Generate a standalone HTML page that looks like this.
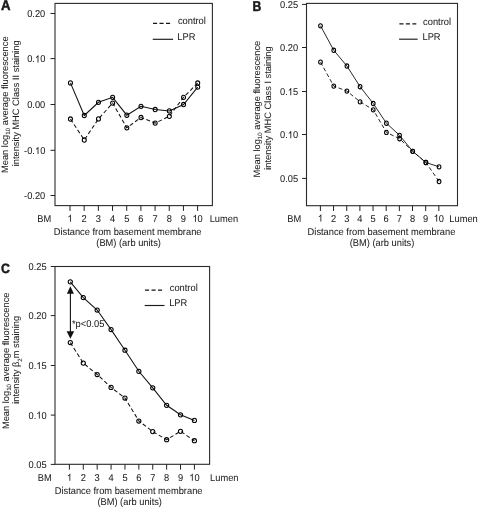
<!DOCTYPE html>
<html><head><meta charset="utf-8"><style>
html,body{margin:0;padding:0;background:#fff;}
body{width:478px;height:508px;overflow:hidden;}
svg{display:block;will-change:transform;font-family:"Liberation Sans",sans-serif;fill:#1a1a1a;text-rendering:geometricPrecision;}
text{stroke:#1a1a1a;stroke-width:0.04px;}
.h{fill-opacity:0;stroke-opacity:0;}
.g{fill:#1a1a1a;stroke:#1a1a1a;stroke-width:0.05px;vector-effect:non-scaling-stroke;}
</style></head><body>
<svg width="478" height="508" viewBox="0 0 478 508">
<rect x="55.00" y="3.40" width="157.40" height="202.20" fill="none" stroke="#2a2a2a" stroke-width="1.1"/>
<line x1="50.50" y1="13.50" x2="55.00" y2="13.50" stroke="#222" stroke-width="1.0"/>
<text transform="translate(45.30,17.30) scale(1,1.06)" font-size="9.3" text-anchor="end" font-weight="normal" >0.20</text>
<line x1="50.50" y1="195.50" x2="55.00" y2="195.50" stroke="#222" stroke-width="1.0"/>
<text transform="translate(45.30,199.30) scale(1,1.06)" font-size="9.3" text-anchor="end" font-weight="normal" >-0.20</text>
<line x1="50.50" y1="58.60" x2="55.00" y2="58.60" stroke="#222" stroke-width="1.0"/>
<text transform="translate(27.20,62.40) scale(1,1.06)" font-size="9.3" >0.<tspan class="h">1</tspan>0</text>
<path class="g" transform="translate(34.96,62.40) scale(0.004541,-0.004813)" d="M763 0L583 0L583 1147Q518 1085 412 1023Q306 961 222 930L222 1104Q373 1175 486 1276Q599 1377 646 1472L763 1472Z"/>
<line x1="50.50" y1="104.50" x2="55.00" y2="104.50" stroke="#222" stroke-width="1.0"/>
<text transform="translate(45.30,108.30) scale(1,1.06)" font-size="9.3" text-anchor="end" font-weight="normal" >0.00</text>
<line x1="50.50" y1="150.30" x2="55.00" y2="150.30" stroke="#222" stroke-width="1.0"/>
<text transform="translate(24.10,154.10) scale(1,1.06)" font-size="9.3" >-0.<tspan class="h">1</tspan>0</text>
<path class="g" transform="translate(34.96,154.10) scale(0.004541,-0.004813)" d="M763 0L583 0L583 1147Q518 1085 412 1023Q306 961 222 930L222 1104Q373 1175 486 1276Q599 1377 646 1472L763 1472Z"/>
<line x1="70.00" y1="205.60" x2="70.00" y2="210.90" stroke="#222" stroke-width="1.0"/>
<text transform="translate(67.41,221.80) scale(1,1.06)" font-size="9.3" ><tspan class="h">1</tspan></text>
<path class="g" transform="translate(67.41,221.80) scale(0.004541,-0.004813)" d="M763 0L583 0L583 1147Q518 1085 412 1023Q306 961 222 930L222 1104Q373 1175 486 1276Q599 1377 646 1472L763 1472Z"/>
<line x1="84.18" y1="205.60" x2="84.18" y2="210.90" stroke="#222" stroke-width="1.0"/>
<text transform="translate(84.18,221.80) scale(1,1.06)" font-size="9.3" text-anchor="middle" font-weight="normal" >2</text>
<line x1="98.36" y1="205.60" x2="98.36" y2="210.90" stroke="#222" stroke-width="1.0"/>
<text transform="translate(98.36,221.80) scale(1,1.06)" font-size="9.3" text-anchor="middle" font-weight="normal" >3</text>
<line x1="112.54" y1="205.60" x2="112.54" y2="210.90" stroke="#222" stroke-width="1.0"/>
<text transform="translate(112.54,221.80) scale(1,1.06)" font-size="9.3" text-anchor="middle" font-weight="normal" >4</text>
<line x1="126.72" y1="205.60" x2="126.72" y2="210.90" stroke="#222" stroke-width="1.0"/>
<text transform="translate(126.72,221.80) scale(1,1.06)" font-size="9.3" text-anchor="middle" font-weight="normal" >5</text>
<line x1="140.90" y1="205.60" x2="140.90" y2="210.90" stroke="#222" stroke-width="1.0"/>
<text transform="translate(140.90,221.80) scale(1,1.06)" font-size="9.3" text-anchor="middle" font-weight="normal" >6</text>
<line x1="155.08" y1="205.60" x2="155.08" y2="210.90" stroke="#222" stroke-width="1.0"/>
<text transform="translate(155.08,221.80) scale(1,1.06)" font-size="9.3" text-anchor="middle" font-weight="normal" >7</text>
<line x1="169.26" y1="205.60" x2="169.26" y2="210.90" stroke="#222" stroke-width="1.0"/>
<text transform="translate(169.26,221.80) scale(1,1.06)" font-size="9.3" text-anchor="middle" font-weight="normal" >8</text>
<line x1="183.44" y1="205.60" x2="183.44" y2="210.90" stroke="#222" stroke-width="1.0"/>
<text transform="translate(183.44,221.80) scale(1,1.06)" font-size="9.3" text-anchor="middle" font-weight="normal" >9</text>
<line x1="197.62" y1="205.60" x2="197.62" y2="210.90" stroke="#222" stroke-width="1.0"/>
<text transform="translate(192.45,221.80) scale(1,1.06)" font-size="9.3" ><tspan class="h">1</tspan>0</text>
<path class="g" transform="translate(192.45,221.80) scale(0.004541,-0.004813)" d="M763 0L583 0L583 1147Q518 1085 412 1023Q306 961 222 930L222 1104Q373 1175 486 1276Q599 1377 646 1472L763 1472Z"/>
<text transform="translate(37.20,221.80) scale(1,1.06)" font-size="9.3" text-anchor="start" font-weight="normal" >BM</text>
<text transform="translate(209.70,221.80) scale(1,1.06)" font-size="9.3" text-anchor="start" font-weight="normal" >Lumen</text>
<text transform="translate(53.70,234.50) scale(1,1.06)" font-size="9.3" text-anchor="start" font-weight="normal" >Distance from basement membrane</text>
<text transform="translate(96.30,245.50) scale(1,1.06)" font-size="9.3" text-anchor="start" font-weight="normal" >(BM) (arb units)</text>
<polyline points="70.45,119.00 84.28,140.00 98.46,118.90 112.64,103.10 126.82,127.80 141.00,117.50 155.18,123.10 169.36,116.30 183.54,97.30 197.72,83.00" fill="none" stroke="#111" stroke-width="1.05" stroke-dasharray="4 2.5"/>
<ellipse cx="70.45" cy="119.00" rx="2.0" ry="2.15" fill="none" stroke="#000" stroke-width="1.05"/>
<ellipse cx="84.28" cy="140.00" rx="2.0" ry="2.15" fill="none" stroke="#000" stroke-width="1.05"/>
<ellipse cx="98.46" cy="118.90" rx="2.0" ry="2.15" fill="none" stroke="#000" stroke-width="1.05"/>
<ellipse cx="112.64" cy="103.10" rx="2.0" ry="2.15" fill="none" stroke="#000" stroke-width="1.05"/>
<ellipse cx="126.82" cy="127.80" rx="2.0" ry="2.15" fill="none" stroke="#000" stroke-width="1.05"/>
<ellipse cx="141.00" cy="117.50" rx="2.0" ry="2.15" fill="none" stroke="#000" stroke-width="1.05"/>
<ellipse cx="155.18" cy="123.10" rx="2.0" ry="2.15" fill="none" stroke="#000" stroke-width="1.05"/>
<ellipse cx="169.36" cy="116.30" rx="2.0" ry="2.15" fill="none" stroke="#000" stroke-width="1.05"/>
<ellipse cx="183.54" cy="97.30" rx="2.0" ry="2.15" fill="none" stroke="#000" stroke-width="1.05"/>
<ellipse cx="197.72" cy="83.00" rx="2.0" ry="2.15" fill="none" stroke="#000" stroke-width="1.05"/>
<polyline points="70.45,82.90 84.28,115.50 98.46,102.30 112.64,97.30 126.82,115.20 141.00,106.30 155.18,109.50 169.36,110.90 183.54,104.50 197.72,87.10" fill="none" stroke="#111" stroke-width="1.05"/>
<ellipse cx="70.45" cy="82.90" rx="2.0" ry="2.15" fill="none" stroke="#000" stroke-width="1.05"/>
<ellipse cx="84.28" cy="115.50" rx="2.0" ry="2.15" fill="none" stroke="#000" stroke-width="1.05"/>
<ellipse cx="98.46" cy="102.30" rx="2.0" ry="2.15" fill="none" stroke="#000" stroke-width="1.05"/>
<ellipse cx="112.64" cy="97.30" rx="2.0" ry="2.15" fill="none" stroke="#000" stroke-width="1.05"/>
<ellipse cx="126.82" cy="115.20" rx="2.0" ry="2.15" fill="none" stroke="#000" stroke-width="1.05"/>
<ellipse cx="141.00" cy="106.30" rx="2.0" ry="2.15" fill="none" stroke="#000" stroke-width="1.05"/>
<ellipse cx="155.18" cy="109.50" rx="2.0" ry="2.15" fill="none" stroke="#000" stroke-width="1.05"/>
<ellipse cx="169.36" cy="110.90" rx="2.0" ry="2.15" fill="none" stroke="#000" stroke-width="1.05"/>
<ellipse cx="183.54" cy="104.50" rx="2.0" ry="2.15" fill="none" stroke="#000" stroke-width="1.05"/>
<ellipse cx="197.72" cy="87.10" rx="2.0" ry="2.15" fill="none" stroke="#000" stroke-width="1.05"/>
<line x1="153.00" y1="23.30" x2="170.10" y2="23.30" stroke="#151515" stroke-width="1.2" stroke-dasharray="4.1 2.4"/>
<line x1="152.70" y1="39.30" x2="173.10" y2="39.30" stroke="#1a1a1a" stroke-width="1.15"/>
<text transform="translate(177.90,24.00) scale(1,1.06)" font-size="9.3" text-anchor="start" font-weight="normal" >control</text>
<text transform="translate(177.30,40.00) scale(1,1.06)" font-size="9.3" text-anchor="start" font-weight="normal" >LPR</text>
<text transform="translate(0.90,10.30) scale(1.0,1.08)" font-size="13.2" text-anchor="start" font-weight="bold" style="stroke-width:0.45px">A</text>
<text transform="translate(8.00,104.70) rotate(-90)" font-size="9.3" text-anchor="middle">Mean log<tspan font-size="6.2" dy="2.2">10</tspan><tspan dy="-2.2"> average fluorescence</tspan></text>
<text transform="translate(19.20,103.30) rotate(-90)" font-size="9.3" text-anchor="middle">intensity MHC Class II staining</text>
<rect x="306.50" y="3.40" width="151.00" height="202.30" fill="none" stroke="#2a2a2a" stroke-width="1.1"/>
<line x1="302.00" y1="4.40" x2="306.50" y2="4.40" stroke="#222" stroke-width="1.0"/>
<text transform="translate(298.10,8.10) scale(1,1.06)" font-size="9.3" text-anchor="end" font-weight="normal" >0.25</text>
<line x1="302.00" y1="47.50" x2="306.50" y2="47.50" stroke="#222" stroke-width="1.0"/>
<text transform="translate(298.10,51.20) scale(1,1.06)" font-size="9.3" text-anchor="end" font-weight="normal" >0.20</text>
<line x1="302.00" y1="91.50" x2="306.50" y2="91.50" stroke="#222" stroke-width="1.0"/>
<text transform="translate(280.00,95.20) scale(1,1.06)" font-size="9.3" >0.<tspan class="h">1</tspan>5</text>
<path class="g" transform="translate(287.76,95.20) scale(0.004541,-0.004813)" d="M763 0L583 0L583 1147Q518 1085 412 1023Q306 961 222 930L222 1104Q373 1175 486 1276Q599 1377 646 1472L763 1472Z"/>
<line x1="302.00" y1="134.50" x2="306.50" y2="134.50" stroke="#222" stroke-width="1.0"/>
<text transform="translate(280.00,138.20) scale(1,1.06)" font-size="9.3" >0.<tspan class="h">1</tspan>0</text>
<path class="g" transform="translate(287.76,138.20) scale(0.004541,-0.004813)" d="M763 0L583 0L583 1147Q518 1085 412 1023Q306 961 222 930L222 1104Q373 1175 486 1276Q599 1377 646 1472L763 1472Z"/>
<line x1="302.00" y1="178.40" x2="306.50" y2="178.40" stroke="#222" stroke-width="1.0"/>
<text transform="translate(298.10,182.10) scale(1,1.06)" font-size="9.3" text-anchor="end" font-weight="normal" >0.05</text>
<line x1="320.40" y1="205.70" x2="320.40" y2="211.00" stroke="#222" stroke-width="1.0"/>
<text transform="translate(317.81,221.60) scale(1,1.06)" font-size="9.3" ><tspan class="h">1</tspan></text>
<path class="g" transform="translate(317.81,221.60) scale(0.004541,-0.004813)" d="M763 0L583 0L583 1147Q518 1085 412 1023Q306 961 222 930L222 1104Q373 1175 486 1276Q599 1377 646 1472L763 1472Z"/>
<line x1="333.56" y1="205.70" x2="333.56" y2="211.00" stroke="#222" stroke-width="1.0"/>
<text transform="translate(333.56,221.60) scale(1,1.06)" font-size="9.3" text-anchor="middle" font-weight="normal" >2</text>
<line x1="346.72" y1="205.70" x2="346.72" y2="211.00" stroke="#222" stroke-width="1.0"/>
<text transform="translate(346.72,221.60) scale(1,1.06)" font-size="9.3" text-anchor="middle" font-weight="normal" >3</text>
<line x1="359.88" y1="205.70" x2="359.88" y2="211.00" stroke="#222" stroke-width="1.0"/>
<text transform="translate(359.88,221.60) scale(1,1.06)" font-size="9.3" text-anchor="middle" font-weight="normal" >4</text>
<line x1="373.04" y1="205.70" x2="373.04" y2="211.00" stroke="#222" stroke-width="1.0"/>
<text transform="translate(373.04,221.60) scale(1,1.06)" font-size="9.3" text-anchor="middle" font-weight="normal" >5</text>
<line x1="386.20" y1="205.70" x2="386.20" y2="211.00" stroke="#222" stroke-width="1.0"/>
<text transform="translate(386.20,221.60) scale(1,1.06)" font-size="9.3" text-anchor="middle" font-weight="normal" >6</text>
<line x1="399.36" y1="205.70" x2="399.36" y2="211.00" stroke="#222" stroke-width="1.0"/>
<text transform="translate(399.36,221.60) scale(1,1.06)" font-size="9.3" text-anchor="middle" font-weight="normal" >7</text>
<line x1="412.52" y1="205.70" x2="412.52" y2="211.00" stroke="#222" stroke-width="1.0"/>
<text transform="translate(412.52,221.60) scale(1,1.06)" font-size="9.3" text-anchor="middle" font-weight="normal" >8</text>
<line x1="425.68" y1="205.70" x2="425.68" y2="211.00" stroke="#222" stroke-width="1.0"/>
<text transform="translate(425.68,221.60) scale(1,1.06)" font-size="9.3" text-anchor="middle" font-weight="normal" >9</text>
<line x1="438.84" y1="205.70" x2="438.84" y2="211.00" stroke="#222" stroke-width="1.0"/>
<text transform="translate(433.67,221.60) scale(1,1.06)" font-size="9.3" ><tspan class="h">1</tspan>0</text>
<path class="g" transform="translate(433.67,221.60) scale(0.004541,-0.004813)" d="M763 0L583 0L583 1147Q518 1085 412 1023Q306 961 222 930L222 1104Q373 1175 486 1276Q599 1377 646 1472L763 1472Z"/>
<text transform="translate(287.30,221.60) scale(1,1.06)" font-size="9.3" text-anchor="start" font-weight="normal" >BM</text>
<text transform="translate(449.30,221.60) scale(1,1.06)" font-size="9.3" text-anchor="start" font-weight="normal" >Lumen</text>
<text transform="translate(307.60,234.50) scale(1,1.06)" font-size="9.3" text-anchor="start" font-weight="normal" >Distance from basement membrane</text>
<text transform="translate(349.70,245.90) scale(1,1.06)" font-size="9.3" text-anchor="start" font-weight="normal" >(BM) (arb units)</text>
<polyline points="320.50,62.10 333.76,86.10 346.92,91.10 360.08,101.80 373.24,109.80 386.40,132.40 399.56,138.70 412.72,151.30 425.88,162.50 439.04,181.50" fill="none" stroke="#111" stroke-width="0.9" stroke-dasharray="4 2.5"/>
<ellipse cx="320.50" cy="62.10" rx="1.85" ry="2.15" fill="none" stroke="#000" stroke-width="1.05"/>
<ellipse cx="333.76" cy="86.10" rx="1.85" ry="2.15" fill="none" stroke="#000" stroke-width="1.05"/>
<ellipse cx="346.92" cy="91.10" rx="1.85" ry="2.15" fill="none" stroke="#000" stroke-width="1.05"/>
<ellipse cx="360.08" cy="101.80" rx="1.85" ry="2.15" fill="none" stroke="#000" stroke-width="1.05"/>
<ellipse cx="373.24" cy="109.80" rx="1.85" ry="2.15" fill="none" stroke="#000" stroke-width="1.05"/>
<ellipse cx="386.40" cy="132.40" rx="1.85" ry="2.15" fill="none" stroke="#000" stroke-width="1.05"/>
<ellipse cx="399.56" cy="138.70" rx="1.85" ry="2.15" fill="none" stroke="#000" stroke-width="1.05"/>
<ellipse cx="412.72" cy="151.30" rx="1.85" ry="2.15" fill="none" stroke="#000" stroke-width="1.05"/>
<ellipse cx="425.88" cy="162.50" rx="1.85" ry="2.15" fill="none" stroke="#000" stroke-width="1.05"/>
<ellipse cx="439.04" cy="181.50" rx="1.85" ry="2.15" fill="none" stroke="#000" stroke-width="1.05"/>
<polyline points="320.50,25.80 333.76,50.30 346.92,66.00 360.08,86.70 373.24,103.50 386.40,123.20 399.56,135.30 412.72,151.30 425.88,162.50 439.04,166.80" fill="none" stroke="#111" stroke-width="0.9"/>
<ellipse cx="320.50" cy="25.80" rx="1.85" ry="2.15" fill="none" stroke="#000" stroke-width="1.05"/>
<ellipse cx="333.76" cy="50.30" rx="1.85" ry="2.15" fill="none" stroke="#000" stroke-width="1.05"/>
<ellipse cx="346.92" cy="66.00" rx="1.85" ry="2.15" fill="none" stroke="#000" stroke-width="1.05"/>
<ellipse cx="360.08" cy="86.70" rx="1.85" ry="2.15" fill="none" stroke="#000" stroke-width="1.05"/>
<ellipse cx="373.24" cy="103.50" rx="1.85" ry="2.15" fill="none" stroke="#000" stroke-width="1.05"/>
<ellipse cx="386.40" cy="123.20" rx="1.85" ry="2.15" fill="none" stroke="#000" stroke-width="1.05"/>
<ellipse cx="399.56" cy="135.30" rx="1.85" ry="2.15" fill="none" stroke="#000" stroke-width="1.05"/>
<ellipse cx="412.72" cy="151.30" rx="1.85" ry="2.15" fill="none" stroke="#000" stroke-width="1.05"/>
<ellipse cx="425.88" cy="162.50" rx="1.85" ry="2.15" fill="none" stroke="#000" stroke-width="1.05"/>
<ellipse cx="439.04" cy="166.80" rx="1.85" ry="2.15" fill="none" stroke="#000" stroke-width="1.05"/>
<line x1="399.40" y1="23.80" x2="416.30" y2="23.80" stroke="#151515" stroke-width="1.2" stroke-dasharray="4.1 2.4"/>
<line x1="399.10" y1="39.20" x2="417.60" y2="39.20" stroke="#1a1a1a" stroke-width="1.15"/>
<text transform="translate(423.10,24.50) scale(1,1.06)" font-size="9.3" text-anchor="start" font-weight="normal" >control</text>
<text transform="translate(422.50,39.90) scale(1,1.06)" font-size="9.3" text-anchor="start" font-weight="normal" >LPR</text>
<text transform="translate(252.60,10.50) scale(0.92,1.08)" font-size="13.2" text-anchor="start" font-weight="bold" style="stroke-width:0.45px">B</text>
<text transform="translate(259.80,109.10) rotate(-90)" font-size="9.3" text-anchor="middle">Mean log<tspan font-size="6.2" dy="2.2">10</tspan><tspan dy="-2.2"> average fluorescence</tspan></text>
<text transform="translate(271.10,108.10) rotate(-90)" font-size="9.3" text-anchor="middle">intensity MHC Class I staining</text>
<rect x="55.00" y="266.50" width="154.60" height="197.80" fill="none" stroke="#2a2a2a" stroke-width="1.1"/>
<line x1="50.80" y1="266.50" x2="55.00" y2="266.50" stroke="#222" stroke-width="1.0"/>
<text transform="translate(46.60,270.00) scale(1,1.06)" font-size="9.3" text-anchor="end" font-weight="normal" >0.25</text>
<line x1="50.80" y1="315.60" x2="55.00" y2="315.60" stroke="#222" stroke-width="1.0"/>
<text transform="translate(46.60,319.10) scale(1,1.06)" font-size="9.3" text-anchor="end" font-weight="normal" >0.20</text>
<line x1="50.80" y1="365.50" x2="55.00" y2="365.50" stroke="#222" stroke-width="1.0"/>
<text transform="translate(28.50,369.00) scale(1,1.06)" font-size="9.3" >0.<tspan class="h">1</tspan>5</text>
<path class="g" transform="translate(36.26,369.00) scale(0.004541,-0.004813)" d="M763 0L583 0L583 1147Q518 1085 412 1023Q306 961 222 930L222 1104Q373 1175 486 1276Q599 1377 646 1472L763 1472Z"/>
<line x1="50.80" y1="415.10" x2="55.00" y2="415.10" stroke="#222" stroke-width="1.0"/>
<text transform="translate(28.50,418.60) scale(1,1.06)" font-size="9.3" >0.<tspan class="h">1</tspan>0</text>
<path class="g" transform="translate(36.26,418.60) scale(0.004541,-0.004813)" d="M763 0L583 0L583 1147Q518 1085 412 1023Q306 961 222 930L222 1104Q373 1175 486 1276Q599 1377 646 1472L763 1472Z"/>
<line x1="50.80" y1="464.40" x2="55.00" y2="464.40" stroke="#222" stroke-width="1.0"/>
<text transform="translate(46.60,467.90) scale(1,1.06)" font-size="9.3" text-anchor="end" font-weight="normal" >0.05</text>
<line x1="69.40" y1="464.30" x2="69.40" y2="469.60" stroke="#222" stroke-width="1.0"/>
<text transform="translate(66.81,480.80) scale(1,1.06)" font-size="9.3" ><tspan class="h">1</tspan></text>
<path class="g" transform="translate(66.81,480.80) scale(0.004541,-0.004813)" d="M763 0L583 0L583 1147Q518 1085 412 1023Q306 961 222 930L222 1104Q373 1175 486 1276Q599 1377 646 1472L763 1472Z"/>
<line x1="83.29" y1="464.30" x2="83.29" y2="469.60" stroke="#222" stroke-width="1.0"/>
<text transform="translate(83.29,480.80) scale(1,1.06)" font-size="9.3" text-anchor="middle" font-weight="normal" >2</text>
<line x1="97.18" y1="464.30" x2="97.18" y2="469.60" stroke="#222" stroke-width="1.0"/>
<text transform="translate(97.18,480.80) scale(1,1.06)" font-size="9.3" text-anchor="middle" font-weight="normal" >3</text>
<line x1="111.07" y1="464.30" x2="111.07" y2="469.60" stroke="#222" stroke-width="1.0"/>
<text transform="translate(111.07,480.80) scale(1,1.06)" font-size="9.3" text-anchor="middle" font-weight="normal" >4</text>
<line x1="124.96" y1="464.30" x2="124.96" y2="469.60" stroke="#222" stroke-width="1.0"/>
<text transform="translate(124.96,480.80) scale(1,1.06)" font-size="9.3" text-anchor="middle" font-weight="normal" >5</text>
<line x1="138.85" y1="464.30" x2="138.85" y2="469.60" stroke="#222" stroke-width="1.0"/>
<text transform="translate(138.85,480.80) scale(1,1.06)" font-size="9.3" text-anchor="middle" font-weight="normal" >6</text>
<line x1="152.74" y1="464.30" x2="152.74" y2="469.60" stroke="#222" stroke-width="1.0"/>
<text transform="translate(152.74,480.80) scale(1,1.06)" font-size="9.3" text-anchor="middle" font-weight="normal" >7</text>
<line x1="166.63" y1="464.30" x2="166.63" y2="469.60" stroke="#222" stroke-width="1.0"/>
<text transform="translate(166.63,480.80) scale(1,1.06)" font-size="9.3" text-anchor="middle" font-weight="normal" >8</text>
<line x1="180.52" y1="464.30" x2="180.52" y2="469.60" stroke="#222" stroke-width="1.0"/>
<text transform="translate(180.52,480.80) scale(1,1.06)" font-size="9.3" text-anchor="middle" font-weight="normal" >9</text>
<line x1="194.41" y1="464.30" x2="194.41" y2="469.60" stroke="#222" stroke-width="1.0"/>
<text transform="translate(189.24,480.80) scale(1,1.06)" font-size="9.3" ><tspan class="h">1</tspan>0</text>
<path class="g" transform="translate(189.24,480.80) scale(0.004541,-0.004813)" d="M763 0L583 0L583 1147Q518 1085 412 1023Q306 961 222 930L222 1104Q373 1175 486 1276Q599 1377 646 1472L763 1472Z"/>
<text transform="translate(37.70,480.80) scale(1,1.06)" font-size="9.3" text-anchor="start" font-weight="normal" >BM</text>
<text transform="translate(210.10,480.80) scale(1,1.06)" font-size="9.3" text-anchor="start" font-weight="normal" >Lumen</text>
<text transform="translate(54.70,494.10) scale(1,1.06)" font-size="9.3" text-anchor="start" font-weight="normal" >Distance from basement membrane</text>
<text transform="translate(97.40,505.00) scale(1,1.06)" font-size="9.3" text-anchor="start" font-weight="normal" >(BM) (arb units)</text>
<polyline points="70.30,342.60 83.29,363.10 97.18,374.50 111.07,387.40 124.96,398.00 138.85,421.00 152.74,431.60 166.63,439.70 180.52,431.30 194.41,440.70" fill="none" stroke="#111" stroke-width="1.05" stroke-dasharray="4 2.5"/>
<ellipse cx="70.30" cy="342.60" rx="2.1" ry="2.1" fill="none" stroke="#000" stroke-width="1.05"/>
<ellipse cx="83.29" cy="363.10" rx="2.1" ry="2.1" fill="none" stroke="#000" stroke-width="1.05"/>
<ellipse cx="97.18" cy="374.50" rx="2.1" ry="2.1" fill="none" stroke="#000" stroke-width="1.05"/>
<ellipse cx="111.07" cy="387.40" rx="2.1" ry="2.1" fill="none" stroke="#000" stroke-width="1.05"/>
<ellipse cx="124.96" cy="398.00" rx="2.1" ry="2.1" fill="none" stroke="#000" stroke-width="1.05"/>
<ellipse cx="138.85" cy="421.00" rx="2.1" ry="2.1" fill="none" stroke="#000" stroke-width="1.05"/>
<ellipse cx="152.74" cy="431.60" rx="2.1" ry="2.1" fill="none" stroke="#000" stroke-width="1.05"/>
<ellipse cx="166.63" cy="439.70" rx="2.1" ry="2.1" fill="none" stroke="#000" stroke-width="1.05"/>
<ellipse cx="180.52" cy="431.30" rx="2.1" ry="2.1" fill="none" stroke="#000" stroke-width="1.05"/>
<ellipse cx="194.41" cy="440.70" rx="2.1" ry="2.1" fill="none" stroke="#000" stroke-width="1.05"/>
<polyline points="70.30,281.80 83.29,297.60 97.18,310.00 111.07,329.60 124.96,350.20 138.85,371.30 152.74,387.80 166.63,405.30 180.52,414.80 194.41,420.40" fill="none" stroke="#111" stroke-width="1.05"/>
<ellipse cx="70.30" cy="281.80" rx="2.1" ry="2.1" fill="none" stroke="#000" stroke-width="1.05"/>
<ellipse cx="83.29" cy="297.60" rx="2.1" ry="2.1" fill="none" stroke="#000" stroke-width="1.05"/>
<ellipse cx="97.18" cy="310.00" rx="2.1" ry="2.1" fill="none" stroke="#000" stroke-width="1.05"/>
<ellipse cx="111.07" cy="329.60" rx="2.1" ry="2.1" fill="none" stroke="#000" stroke-width="1.05"/>
<ellipse cx="124.96" cy="350.20" rx="2.1" ry="2.1" fill="none" stroke="#000" stroke-width="1.05"/>
<ellipse cx="138.85" cy="371.30" rx="2.1" ry="2.1" fill="none" stroke="#000" stroke-width="1.05"/>
<ellipse cx="152.74" cy="387.80" rx="2.1" ry="2.1" fill="none" stroke="#000" stroke-width="1.05"/>
<ellipse cx="166.63" cy="405.30" rx="2.1" ry="2.1" fill="none" stroke="#000" stroke-width="1.05"/>
<ellipse cx="180.52" cy="414.80" rx="2.1" ry="2.1" fill="none" stroke="#000" stroke-width="1.05"/>
<ellipse cx="194.41" cy="420.40" rx="2.1" ry="2.1" fill="none" stroke="#000" stroke-width="1.05"/>
<line x1="145.00" y1="290.10" x2="162.10" y2="290.10" stroke="#151515" stroke-width="1.2" stroke-dasharray="4.1 2.4"/>
<line x1="144.70" y1="305.50" x2="164.50" y2="305.50" stroke="#1a1a1a" stroke-width="1.15"/>
<text transform="translate(169.80,290.80) scale(1,1.06)" font-size="9.3" text-anchor="start" font-weight="normal" >control</text>
<text transform="translate(169.20,306.20) scale(1,1.06)" font-size="9.3" text-anchor="start" font-weight="normal" >LPR</text>
<text transform="translate(1.00,272.60) scale(0.93,1.02)" font-size="13.2" text-anchor="start" font-weight="bold" style="stroke-width:0.45px">C</text>
<text transform="translate(8.60,360.80) rotate(-90)" font-size="9.3" text-anchor="middle">Mean log<tspan font-size="6.2" dy="2.2">10</tspan><tspan dy="-2.2"> average fluorescence</tspan></text>
<text transform="translate(19.30,359.80) rotate(-90)" font-size="9.3" text-anchor="middle">intensity β<tspan font-size="6.2" dy="2.2">2</tspan><tspan dy="-2.2">m staining</tspan></text>
<line x1="70.40" y1="292.00" x2="70.40" y2="333.00" stroke="#111" stroke-width="1.1"/>
<polygon points="70.4,286.3 66.9,293.7 73.9,293.7" fill="#111"/>
<polygon points="70.4,338.8 66.6,331.3 74.2,331.3" fill="#111"/>
<text transform="translate(72.00,327.10) scale(1,1.06)" font-size="9.3" text-anchor="start" font-weight="normal" >*p&lt;0.05</text>
</svg>
</body></html>
